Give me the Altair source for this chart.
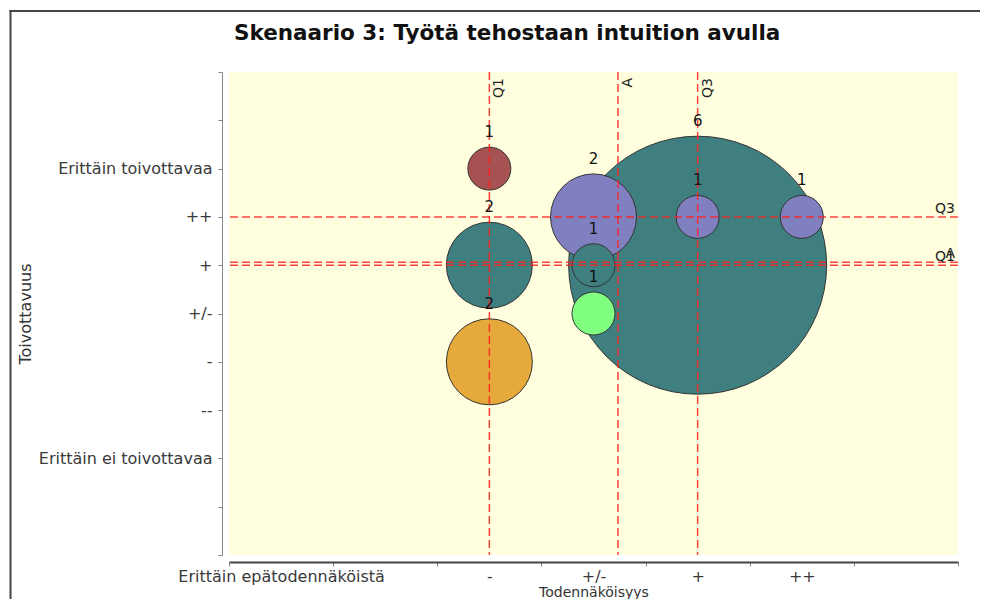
import altair as alt
import pandas as pd

# ---------------- data ----------------
x_vals = [6, 5, 6, 7, 5, 5, 4, 4, 4]          # Todennäköisyys (numeric code)
y_vals = [6, 7, 7, 7, 6, 5, 8, 6, 4]          # Toivottavuus (numeric code)
counts = [6, 2, 1, 1, 1, 1, 1, 2, 2]          # bubble size / label

x_line_names = ["Q1", "A", "Q3"]
x_line_vals = [4.0, 5.235, 6.0]
y_line_names = ["Q1", "A", "Q3"]
y_line_vals = [6.0, 6.06, 7.0]

x_tick_values = [1.5, 2.5, 3.5, 4.5, 5.5, 6.5, 7.5, 8.5]
x_tick_labels = ["Erittäin epätodennäköistä", "", "-", "+/-", "+", "++", "", ""]
y_tick_values = [0, 1, 2, 3, 4, 5, 6, 7, 8, 9, 10]
y_tick_labels = ["", "", "Erittäin ei toivottavaa", "--", "-", "+/-", "+", "++",
                 "Erittäin toivottavaa", "", ""]

color_domain = [8, 7, 6, 5, 4]
color_range = ["#A65252", "#8080C0", "#3F7F7F", "#80FF80", "#E6AA3C"]

title_text = ["Skenaario 3: Työtä tehostaan intuition avulla"]
x_title = "Todennäköisyys"
y_title = "Toivottavuus"

# ---------------- layout ----------------
W, H = 729, 483
PAD_L, PAD_T, PAD_R, PAD_B = 221, 64, 22, 44
PX_PER_Y = H / 10.0
DIAM_PER_COUNT = 43
FONT = "DejaVu Sans"

df = pd.DataFrame({"x": x_vals, "y": y_vals, "count": counts})
dfx = pd.DataFrame({"name": x_line_names, "v": x_line_vals})
dfy = pd.DataFrame({"name": y_line_names, "v": y_line_vals})
dft = pd.DataFrame({"t": title_text})
one = pd.DataFrame({"a": [0]})


def js_list(lst):
    return "[" + ",".join(repr(v) if not isinstance(v, str) else "'" + v + "'" for v in lst) + "]"


x_label_expr = f"{js_list(x_tick_labels)}[indexof({js_list(x_tick_values)}, datum.value)]"
y_label_expr = f"{js_list(y_tick_labels)}[indexof({js_list(y_tick_values)}, datum.value)]"

x_scale = alt.Scale(domain=[1.5, 8.5], nice=False, zero=False)
y_scale = alt.Scale(domain=[0, 10], nice=False, zero=False)

x_axis = alt.Axis(
    values=x_tick_values, labelExpr=x_label_expr, labelOffset=W / 14.0,
    grid=False, offset=7, tickSize=4, tickColor="#888", domainColor="#444",
    domainWidth=2, labelFont=FONT, labelFontSize=16, labelColor="#3a3a3a",
    labelPadding=2, labelOverlap=False, labelFlush=False, labelBound=False,
    labelLimit=0,
    title=x_title, titleFont=FONT, titleFontSize=14, titleFontWeight="normal",
    titleColor="#333", titlePadding=1,
)
y_axis = alt.Axis(
    values=y_tick_values, labelExpr=y_label_expr,
    grid=False, offset=7, tickSize=4, tickColor="#888", domainColor="#888",
    domainWidth=1, labelFont=FONT, labelFontSize=16, labelColor="#3a3a3a",
    labelPadding=6, labelOverlap=False, labelFlush=False, labelBound=False,
    labelLimit=0,
    title=y_title, titleFont=FONT, titleFontSize=16, titleFontWeight="normal",
    titleColor="#333", titlePadding=5,
)

# outer frame (left and top edges only visible), drawn as thin filled bars
frame_left = alt.Chart(one).mark_rect(color="#444", strokeWidth=0).encode(
    x=alt.value(-219.5), x2=alt.value(-217.5), y=alt.value(-62), y2=alt.value(H + PAD_B + 40),
)
frame_top = alt.Chart(one).mark_rect(color="#444", strokeWidth=0).encode(
    x=alt.value(-219.5), x2=alt.value(W + PAD_R + 60), y=alt.value(-62), y2=alt.value(-60),
)

title = alt.Chart(dft).mark_text(
    font=FONT, fontSize=21.5, fontWeight="bold", color="#111",
    align="left", baseline="alphabetic"
).encode(
    x=alt.value(5), y=alt.value(-32), text="t:N"
)

bubbles = alt.Chart(df).mark_circle(
    opacity=1, stroke="#333", strokeWidth=1
).encode(
    x=alt.X("x:Q", scale=x_scale, axis=x_axis),
    y=alt.Y("y:Q", scale=y_scale, axis=y_axis),
    size=alt.Size("count:Q", legend=None,
                  scale=alt.Scale(type="pow", exponent=2, domain=[0, 6],
                                  range=[0, (DIAM_PER_COUNT * 6) ** 2])),
    color=alt.Color("y:N", legend=None,
                    scale=alt.Scale(domain=color_domain, range=color_range)),
)

dash_style = dict(color="#FF2020", strokeWidth=1.5, strokeDash=[8, 4], opacity=0.85)

vlines = alt.Chart(dfx).mark_rule(**dash_style).encode(x=alt.X("v:Q", scale=x_scale))
hlines = alt.Chart(dfy).mark_rule(**dash_style).encode(y=alt.Y("v:Q", scale=y_scale))

count_labels = alt.Chart(df).transform_calculate(
    ly=f"datum.y + ({DIAM_PER_COUNT / 2} * datum.count + 10) / {PX_PER_Y}"
).mark_text(
    font=FONT, fontSize=15, color="#111", baseline="alphabetic", align="center"
).encode(
    x=alt.X("x:Q", scale=x_scale),
    y=alt.Y("ly:Q", scale=y_scale),
    text=alt.Text("count:Q"),
)

vline_labels = alt.Chart(dfx).mark_text(
    font=FONT, fontSize=14, color="#222", angle=270, align="right",
    baseline="top", dy=3
).encode(
    x=alt.X("v:Q", scale=x_scale),
    y=alt.value(6),
    text="name:N",
)

hline_labels = alt.Chart(dfy).mark_text(
    font=FONT, fontSize=14, color="#222", align="right", baseline="alphabetic", dy=-4
).encode(
    x=alt.value(W - 3),
    y=alt.Y("v:Q", scale=y_scale),
    text="name:N",
)

chart = alt.layer(
    frame_left, frame_top, title, bubbles, vlines, hlines,
    count_labels, vline_labels, hline_labels
).properties(
    width=W, height=H,
    padding={"left": PAD_L, "top": PAD_T, "right": PAD_R, "bottom": PAD_B},
    autosize=alt.AutoSizeParams(type="none"),
    background="white",
).configure_view(
    fill="#FFFFE0", stroke=None
)

chart.save("out.html", embed_options={"renderer": "svg", "actions": False})
